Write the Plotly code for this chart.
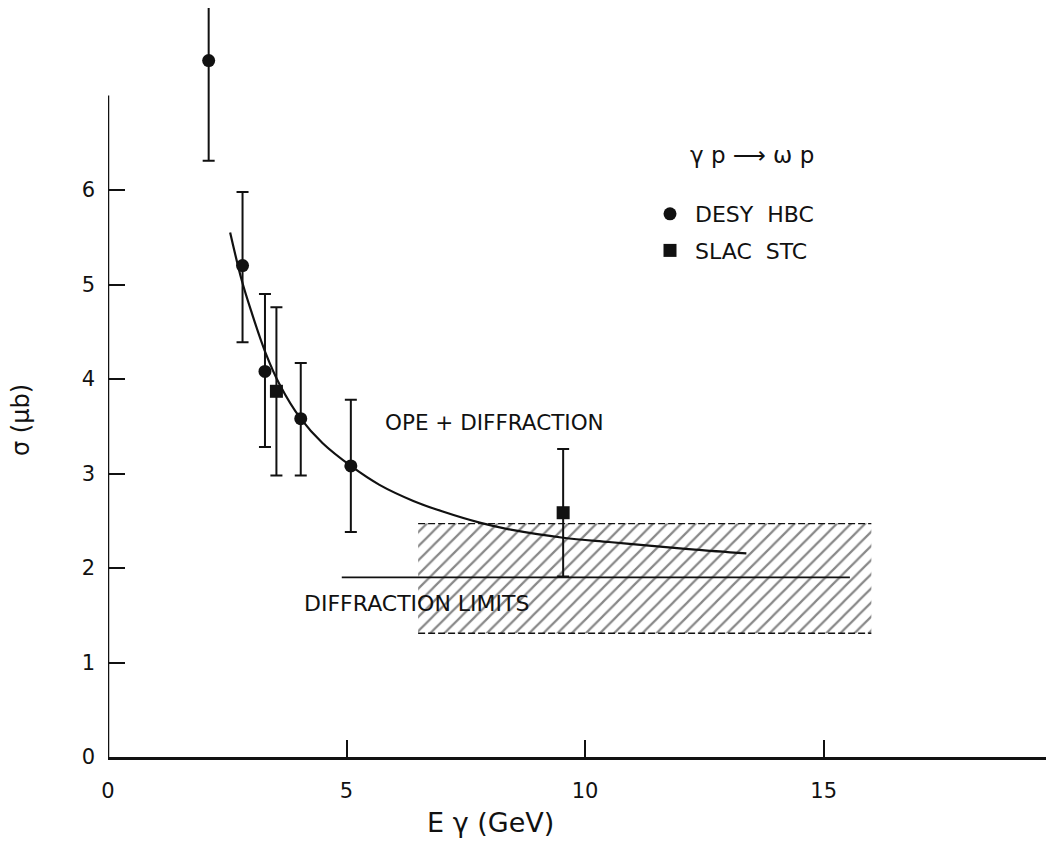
import plotly.graph_objects as go

# ---- data ----
desy_E = [2.11, 2.82, 3.29, 4.04, 5.09]
desy_sigma = [7.37, 5.20, 4.08, 3.58, 3.08]
desy_hi = [8.10, 5.98, 4.90, 4.17, 3.78]
desy_lo = [6.31, 4.39, 3.28, 2.98, 2.38]

slac_E = [3.53, 9.54]
slac_sigma = [3.87, 2.585]
slac_hi = [4.76, 3.26]
slac_lo = [2.98, 1.91]

ope_E = [2.56, 2.8, 3.0, 3.3, 3.6, 4.04, 4.5, 5.09, 5.69, 6.4, 7.0, 7.79, 8.5, 9.54, 10.5, 11.28, 12.3, 13.38]
ope_sigma = [5.55, 5.05, 4.72, 4.28, 3.94, 3.58, 3.32, 3.08, 2.88, 2.71, 2.60, 2.48, 2.40, 2.32, 2.275, 2.24, 2.195, 2.155]

diff_E = [4.9, 15.55]
diff_sigma = [1.90, 1.90]

band_E = [6.5, 16.0]
band_lo = 1.31
band_hi = 2.47

x_ticks = [0, 5, 10, 15]
y_ticks = [0, 1, 2, 3, 4, 5, 6]
y_axis_top = 7.0

FONT = "DejaVu Sans"
INK = "#111111"

# page is offset by the 8px body margin; plot area spans page x 108..1054, y 8..757
W, H = 1046, 836
L, B = 100, 87
PW, PH = W - L, H - B


def px(page_x):
    return (page_x - 8 - L) / PW


def py(page_y):
    return (757 - page_y) / PH


fig = go.Figure()

# hatched band of diffraction limits
fig.add_trace(go.Scatter(
    x=[band_E[0], band_E[1], band_E[1], band_E[0], band_E[0]],
    y=[band_lo, band_lo, band_hi, band_hi, band_lo],
    mode="lines", fill="toself", line=dict(width=0, color="rgba(0,0,0,0)"),
    fillcolor="rgba(0,0,0,0)",
    fillpattern=dict(shape="/", fgcolor=INK, bgcolor="white", size=10, solidity=0.22),
    showlegend=False, hoverinfo="skip"))
for yv in (band_lo, band_hi):
    fig.add_trace(go.Scatter(
        x=band_E, y=[yv, yv], mode="lines",
        line=dict(color=INK, width=1.4, dash="7px,3px"),
        showlegend=False, hoverinfo="skip"))

# diffraction limit line
fig.add_trace(go.Scatter(x=diff_E, y=diff_sigma, mode="lines",
                         line=dict(color=INK, width=1.8), showlegend=False))

# OPE + diffraction curve
fig.add_trace(go.Scatter(x=ope_E, y=ope_sigma, mode="lines",
                         line=dict(color=INK, width=2.2, shape="spline", smoothing=1.0),
                         showlegend=False))

# data points
fig.add_trace(go.Scatter(
    x=desy_E, y=desy_sigma, mode="markers", name="DESY  HBC",
    legendgroup="a",
    marker=dict(symbol="circle", size=13, color=INK),
    error_y=dict(type="data", symmetric=False,
                 array=[h - s for h, s in zip(desy_hi, desy_sigma)],
                 arrayminus=[s - l for s, l in zip(desy_sigma, desy_lo)],
                 color=INK, thickness=2, width=6)))
fig.add_trace(go.Scatter(
    x=slac_E, y=slac_sigma, mode="markers", name="SLAC  STC",
    legendgroup="b",
    marker=dict(symbol="square", size=13, color=INK),
    error_y=dict(type="data", symmetric=False,
                 array=[h - s for h, s in zip(slac_hi, slac_sigma)],
                 arrayminus=[s - l for s, l in zip(slac_sigma, slac_lo)],
                 color=INK, thickness=2, width=6)))

# y axis line (only up to 7)
fig.add_shape(type="line", xref="x", yref="y", x0=0, x1=0, y0=0, y1=y_axis_top,
              line=dict(color=INK, width=2.5))

fig.add_annotation(x=8.1, y=3.545, text="OPE + DIFFRACTION", showarrow=False,
                   xanchor="center", yanchor="middle",
                   font=dict(family=FONT, size=21.5, color=INK))
fig.add_annotation(x=6.47, y=1.62, text="DIFFRACTION LIMITS", showarrow=False,
                   xanchor="center", yanchor="middle",
                   font=dict(family=FONT, size=22, color=INK))
fig.add_annotation(xref="paper", yref="paper", x=px(752), y=py(155),
                   text="γ p ⟶ ω p", showarrow=False, xanchor="center", yanchor="middle",
                   font=dict(family=FONT, size=23, color=INK))
fig.add_annotation(xref="paper", yref="paper", x=px(490), y=py(822),
                   text="E γ (GeV)", showarrow=False, xanchor="center", yanchor="middle",
                   font=dict(family=FONT, size=27, color=INK))
fig.add_annotation(xref="paper", yref="paper", x=px(21), y=py(420),
                   text="σ (μb)", showarrow=False, textangle=-90,
                   xanchor="center", yanchor="middle",
                   font=dict(family=FONT, size=24, color=INK))

fig.update_layout(
    width=W, height=H,
    margin=dict(l=L, r=0, t=0, b=B),
    paper_bgcolor="white", plot_bgcolor="white",
    showlegend=True,
    legend=dict(x=px(667 - 22), y=py(213 - 20), xanchor="left", yanchor="top",
                bgcolor="rgba(0,0,0,0)", borderwidth=0, tracegroupgap=5,
                itemwidth=40,
                font=dict(family=FONT, size=22, color=INK)),
    xaxis=dict(range=[0, PW / 47.71], showgrid=False, zeroline=False,
               showline=True, linecolor=INK, linewidth=2.5,
               ticks="inside", ticklen=17, tickwidth=2, tickcolor=INK,
               tickvals=x_ticks, ticktext=[str(v) for v in x_ticks],
               ticklabelstandoff=13,
               tickfont=dict(family=FONT, size=21, color=INK)),
    yaxis=dict(range=[0, PH / 94.5], showgrid=False, zeroline=False,
               showline=False,
               ticks="inside", ticklen=17, tickwidth=2, tickcolor=INK,
               tickvals=y_ticks, ticktext=[str(v) for v in y_ticks],
               ticklabelstandoff=12,
               tickfont=dict(family=FONT, size=21, color=INK)),
)

fig.write_html("out.html")
